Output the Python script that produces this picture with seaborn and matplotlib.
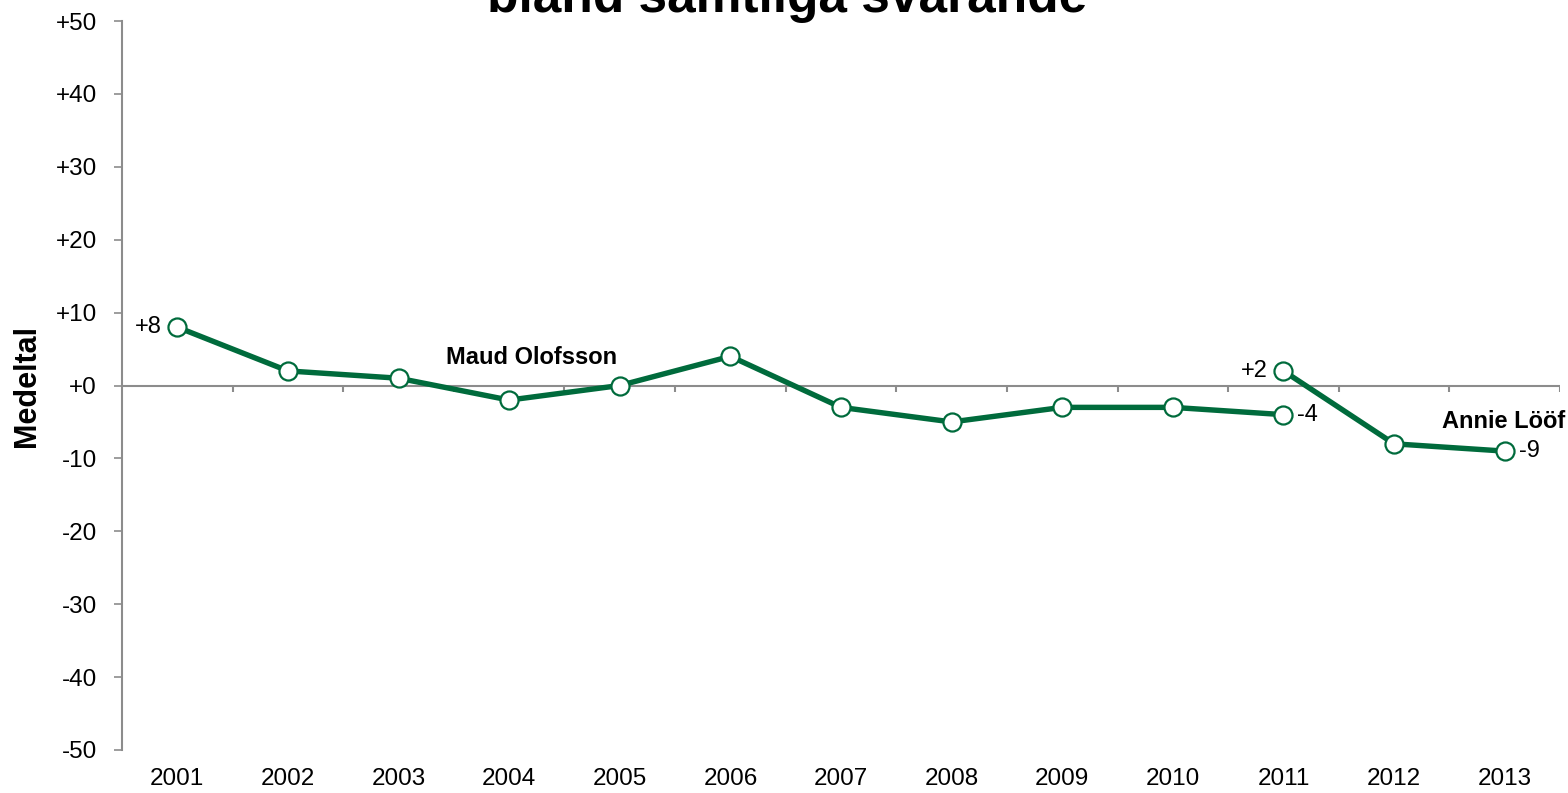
import matplotlib
matplotlib.use("Agg")
import matplotlib.pyplot as plt
import seaborn as sns
import pandas as pd

years = ["2001", "2002", "2003", "2004", "2005", "2006", "2007",
         "2008", "2009", "2010", "2011", "2012", "2013"]
maud_years = years[:11]
maud_values = [8, 2, 1, -2, 0, 4, -3, -5, -3, -3, -4]
annie_years = years[10:]
annie_values = [2, -8, -9]
yticks = list(range(-50, 51, 10))

sns.set_style("white")
plt.rcParams['font.family'] = ['Liberation Sans', 'DejaVu Sans']
plt.rcParams['text.color'] = 'black'
plt.rcParams['xtick.color'] = 'black'
plt.rcParams['ytick.color'] = 'black'
plt.rcParams['axes.labelcolor'] = 'black'

GREEN = "#006B3C"
GREY = "#8C8C8C"

fig = plt.figure(figsize=(15.68, 7.93), dpi=100)
ax = fig.add_axes([122/1568, 1-750/793, (1560-122)/1568, (750-21)/793])

xpos = {y: i for i, y in enumerate(years)}
df_m = pd.DataFrame({"x": [xpos[y] for y in maud_years], "v": maud_values, "who": "Maud Olofsson"})
df_a = pd.DataFrame({"x": [xpos[y] for y in annie_years], "v": annie_values, "who": "Annie Lööf"})

for d in (df_m, df_a):
    sns.lineplot(data=d, x="x", y="v", ax=ax, color=GREEN, linewidth=3.9,
                 marker="o", markersize=13, markerfacecolor="white",
                 markeredgecolor=GREEN, markeredgewidth=1.6, zorder=3, legend=False)

ax.set_xlim(-0.5, len(years) - 0.5)
ax.set_ylim(-50, 50)
ax.set_yticks(yticks)
ax.set_yticklabels([("+%d" % t) if t >= 0 else str(t) for t in yticks], fontsize=17.5)
ax.set_xticks(range(len(years)))
ax.set_xticklabels(years, fontsize=17.5)
ax.tick_params(axis='x', length=0, pad=13, bottom=False)
ax.tick_params(axis='y', length=6, width=1.2, color=GREY, direction='out', pad=12, left=True,
               labelcolor='black')
for s in ("top", "right", "bottom"):
    ax.spines[s].set_visible(False)
ax.spines["left"].set_color(GREY)
ax.spines["left"].set_linewidth(1.5)

# zero line with category-boundary ticks
ax.axhline(0, color=GREY, linewidth=1.5, zorder=1)
bounds = [i + 0.5 for i in range(len(years))]
ax.vlines(bounds, -0.9, 0, color=GREY, linewidth=1.5, zorder=1)

ax.set_ylabel("Medeltal", fontsize=22, fontweight="bold", labelpad=10)
ax.set_xlabel("")

fs = 17
ax.annotate("+8", (xpos["2001"], maud_values[0]), xytext=(-11, 0), textcoords="offset points",
            ha="right", va="center", fontsize=fs)
ax.annotate("-4", (xpos["2011"], maud_values[-1]), xytext=(10, 0), textcoords="offset points",
            ha="left", va="center", fontsize=fs)
ax.annotate("+2", (xpos["2011"], annie_values[0]), xytext=(-11, 0), textcoords="offset points",
            ha="right", va="center", fontsize=fs)
ax.annotate("-9", (xpos["2013"], annie_values[-1]), xytext=(10, 0), textcoords="offset points",
            ha="left", va="center", fontsize=fs)
ax.text(3.2, 3.8, "Maud Olofsson", ha="center", va="center", fontsize=fs, fontweight="bold")
ax.text(12.55, -4.9, "Annie Lööf", ha="right", va="center", fontsize=fs, fontweight="bold", clip_on=False)

fig.text(0.502, 1 - 12/793, "bland samtliga svarande", ha="center", va="baseline",
         fontsize=37, fontweight="bold")

fig.savefig("out.png", dpi=100, facecolor="white")
